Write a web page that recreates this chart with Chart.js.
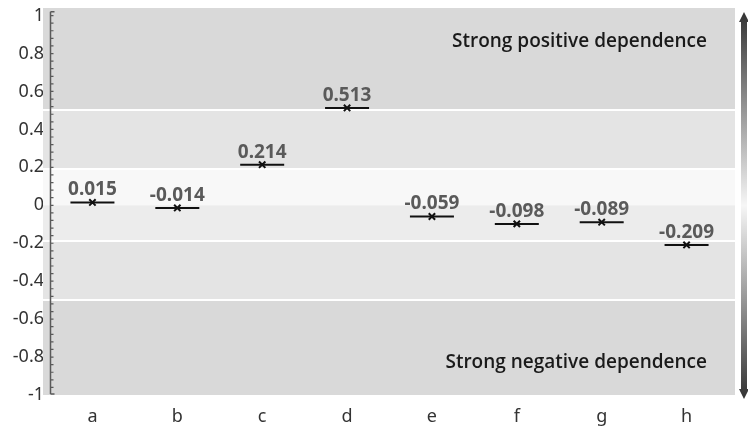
<!DOCTYPE html>
<html>
<head>
<meta charset="utf-8">
<script src="https://cdn.jsdelivr.net/npm/chart.js@4.4.1/dist/chart.umd.min.js"></script>
<style>
  html, body { margin: 0; padding: 0; background: #ffffff; }
  #wrap { width: 748px; height: 428px; position: relative; }
</style>
</head>
<body>
<div id="wrap"><canvas id="c" width="748" height="428"></canvas></div>
<script>
// Dependence coefficient per variable
const categories = ['a', 'b', 'c', 'd', 'e', 'f', 'g', 'h'];
const values = [0.015, -0.014, 0.214, 0.513, -0.059, -0.098, -0.089, -0.209];
const yTicks = [-1, -0.8, -0.6, -0.4, -0.2, 0, 0.2, 0.4, 0.6, 0.8, 1];
// Zone boundaries, top to bottom
const bandEdges = [1.04, 0.5, 0.19, 0, -0.19, -0.5, -1];
const zoneLabels = ['Strong positive dependence', 'Strong negative dependence'];

const bandColors = ['#d9d9d9', '#e4e4e4', '#f8f8f8', '#ececec', '#e4e4e4', '#d9d9d9'];
const whiteLines = [0.5, 0.19, -0.19, -0.5];

const zonePlugin = {
  id: 'zones',
  beforeDatasetsDraw(chart) {
    const { ctx, chartArea: ca, scales: { y } } = chart;
    const left = ca.left - 7, right = ca.right + 6;
    ctx.save();
    for (let i = 0; i < bandColors.length; i++) {
      const y0 = y.getPixelForValue(bandEdges[i]);
      const y1 = y.getPixelForValue(bandEdges[i + 1]);
      ctx.fillStyle = bandColors[i];
      ctx.fillRect(left, y0, right - left, y1 - y0);
    }
    ctx.strokeStyle = '#ffffff';
    ctx.lineWidth = 2;
    whiteLines.forEach(v => {
      const py = Math.round(y.getPixelForValue(v));
      ctx.beginPath();
      ctx.moveTo(left, py);
      ctx.lineTo(right, py);
      ctx.stroke();
    });

    // zone captions
    ctx.fillStyle = '#1a1a1a';
    ctx.font = '600 19px "Open Sans"';
    ctx.textAlign = 'right';
    ctx.textBaseline = 'alphabetic';
    ctx.fillText(zoneLabels[0], ca.right - 22, ca.top + 39);
    ctx.fillText(zoneLabels[1], ca.right - 22, ca.bottom - 27);

    // left axis with inward minor ticks
    const ax = ca.left + 0.5;
    const yTop = y.getPixelForValue(1.02), yBot = y.getPixelForValue(-0.995);
    ctx.strokeStyle = '#5a5a5a';
    ctx.lineWidth = 1.5;
    ctx.beginPath();
    ctx.moveTo(ax, yTop);
    ctx.lineTo(ax, yBot);
    ctx.moveTo(ax, yTop);
    ctx.lineTo(ax + 4, yTop);
    ctx.moveTo(ax, yBot);
    ctx.lineTo(ax + 4, yBot);
    ctx.stroke();
    ctx.lineWidth = 1.2;
    ctx.beginPath();
    for (let k = -24; k <= 25; k++) {
      const py = y.getPixelForValue(k * 0.04);
      ctx.moveTo(ax, py);
      ctx.lineTo(ax + 3, py);
    }
    ctx.stroke();
    ctx.restore();
  },
  afterDatasetsDraw(chart) {
    const { ctx } = chart;
    const meta = chart.getDatasetMeta(0);
    ctx.save();
    ctx.fillStyle = '#5a5a5a';
    ctx.font = 'bold 19px "Noto Sans"';
    ctx.textAlign = 'center';
    ctx.textBaseline = 'alphabetic';
    meta.data.forEach((pt, i) => {
      ctx.fillText(values[i].toFixed(3), pt.x, pt.y - 7);
    });

    // scale arrow on the right edge
    const W = chart.width;
    const cx = W - 4;
    const top = 12, bot = 399;
    const g = ctx.createLinearGradient(0, top, 0, bot);
    g.addColorStop(0, '#333333');
    g.addColorStop(0.5, '#f6f6f6');
    g.addColorStop(1, '#333333');
    ctx.fillStyle = g;
    ctx.beginPath();
    ctx.moveTo(cx, top);
    ctx.lineTo(cx + 5, top + 10);
    ctx.lineTo(cx + 3, top + 10);
    ctx.lineTo(cx + 3, bot - 10);
    ctx.lineTo(cx + 5, bot - 10);
    ctx.lineTo(cx, bot);
    ctx.lineTo(cx - 5, bot - 10);
    ctx.lineTo(cx - 3, bot - 10);
    ctx.lineTo(cx - 3, top + 10);
    ctx.lineTo(cx - 5, top + 10);
    ctx.closePath();
    ctx.fill();
    ctx.restore();
  }
};

new Chart(document.getElementById('c'), {
  type: 'line',
  data: {
    labels: categories,
    datasets: [
      {
        data: values,
        showLine: false,
        pointStyle: 'line',
        pointRadius: 22,
        pointHoverRadius: 22,
        pointBorderWidth: 2,
        pointBorderColor: '#111111',
        pointBackgroundColor: '#111111'
      },
      {
        data: values,
        showLine: false,
        pointStyle: 'crossRot',
        pointRadius: 4.5,
        pointHoverRadius: 4.5,
        pointBorderWidth: 2,
        pointBorderColor: '#111111',
        pointBackgroundColor: '#111111'
      }
    ]
  },
  options: {
    responsive: false,
    devicePixelRatio: 1,
    animation: false,
    events: [],
    layout: { autoPadding: false, padding: { top: 8, right: 19, bottom: 0, left: 0 } },
    plugins: { legend: { display: false }, tooltip: { enabled: false } },
    scales: {
      x: {
        type: 'category',
        offset: true,
        grid: { display: false, drawTicks: false },
        border: { display: false },
        ticks: { color: '#333333', font: { family: 'Noto Sans', size: 18 }, padding: 11, maxRotation: 0 },
        afterFit(scale) { scale.height = 33; scale.paddingLeft = 0; scale.paddingRight = 0; }
      },
      y: {
        min: -1,
        max: 1.04,
        grid: { display: false, drawTicks: false },
        border: { display: false },
        afterBuildTicks(scale) { scale.ticks = yTicks.map(v => ({ value: v })); },
        ticks: {
          color: '#333333',
          font: { family: 'Noto Sans', size: 18 },
          padding: 6,
          callback: v => String(v)
        },
        afterFit(scale) { scale.width = 50; scale.paddingTop = 0; scale.paddingBottom = 0; }
      }
    }
  },
  plugins: [zonePlugin]
});
</script>
</body>
</html>
